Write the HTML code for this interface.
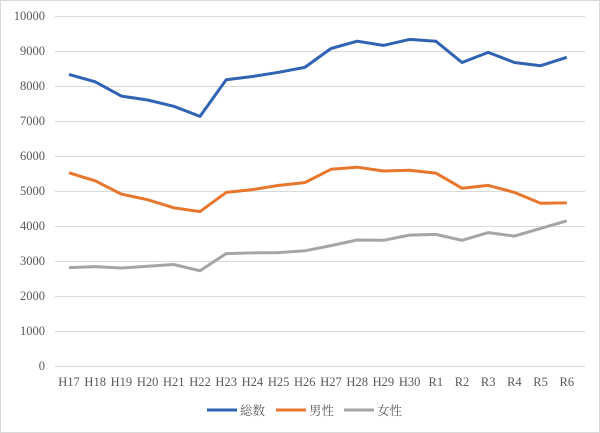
<!DOCTYPE html>
<html><head><meta charset="utf-8"><style>
html,body{margin:0;padding:0;background:#fff}
svg{display:block}
text{font-family:"Liberation Serif","Noto Serif CJK SC",serif;font-size:12.5px;fill:#595959}
</style></head><body>
<svg width="600" height="433" viewBox="0 0 600 433">
<rect x="0.5" y="0.5" width="599" height="432" fill="#fff" stroke="#d9d9d9"/>
<g stroke="#d9d9d9" stroke-width="1">
<line x1="55" x2="585" y1="16.5" y2="16.5"/><line x1="55" x2="585" y1="51.5" y2="51.5"/>
<line x1="55" x2="585" y1="86.5" y2="86.5"/><line x1="55" x2="585" y1="121.5" y2="121.5"/>
<line x1="55" x2="585" y1="156.5" y2="156.5"/><line x1="55" x2="585" y1="191.5" y2="191.5"/>
<line x1="55" x2="585" y1="226.5" y2="226.5"/><line x1="55" x2="585" y1="261.5" y2="261.5"/>
<line x1="55" x2="585" y1="296.5" y2="296.5"/><line x1="55" x2="585" y1="331.5" y2="331.5"/>
<line x1="55" x2="585" y1="366.5" y2="366.5"/>
</g>
<g text-anchor="end">
<text x="45" y="20">10000</text><text x="45" y="55">9000</text><text x="45" y="90">8000</text>
<text x="45" y="125">7000</text><text x="45" y="160">6000</text><text x="45" y="195">5000</text>
<text x="45" y="230">4000</text><text x="45" y="265">3000</text><text x="45" y="300">2000</text>
<text x="45" y="335">1000</text><text x="45" y="370">0</text>
</g>
<g text-anchor="middle" id="xl"></g>
<polyline id="p1" fill="none" stroke="#3163b4" stroke-width="3" stroke-linejoin="round"/>
<polyline id="p2" fill="none" stroke="#e8762d" stroke-width="3" stroke-linejoin="round"/>
<polyline id="p3" fill="none" stroke="#a5a5a5" stroke-width="3" stroke-linejoin="round"/>
<line x1="207" x2="237" y1="410" y2="410" stroke="#3163b4" stroke-width="3"/>
<text x="240" y="415">総数</text>
<line x1="276" x2="306" y1="410" y2="410" stroke="#e8762d" stroke-width="3"/>
<text x="309" y="415">男性</text>
<line x1="344" x2="374" y1="410" y2="410" stroke="#a5a5a5" stroke-width="3"/>
<text x="377" y="415">女性</text>
</svg>
<script>
var labels=["H17","H18","H19","H20","H21","H22","H23","H24","H25","H26","H27","H28","H29","H30","R1","R2","R3","R4","R5","R6"];
var a=[8330,8120,7710,7600,7420,7130,8180,8270,8390,8530,9070,9280,9160,9330,9280,8670,8960,8670,8580,8820];
var b=[5520,5290,4910,4750,4520,4410,4960,5040,5160,5240,5620,5680,5570,5590,5510,5080,5160,4960,4650,4660];
var c=[2810,2840,2800,2850,2900,2720,3210,3230,3240,3290,3440,3600,3590,3740,3760,3590,3810,3710,3930,4150];
function X(i){return 69+i*26.2}function Y(v){return 366-v*0.035}
var g=document.getElementById("xl"),ns="http://www.w3.org/2000/svg";
labels.forEach(function(l,i){var t=document.createElementNS(ns,"text");t.setAttribute("x",X(i));t.setAttribute("y",386);t.textContent=l;g.appendChild(t);});
function pts(d){return d.map(function(v,i){return X(i).toFixed(1)+","+Y(v).toFixed(1)}).join(" ")}
document.getElementById("p1").setAttribute("points",pts(a));
document.getElementById("p2").setAttribute("points",pts(b));
document.getElementById("p3").setAttribute("points",pts(c));
</script>
</body></html>
